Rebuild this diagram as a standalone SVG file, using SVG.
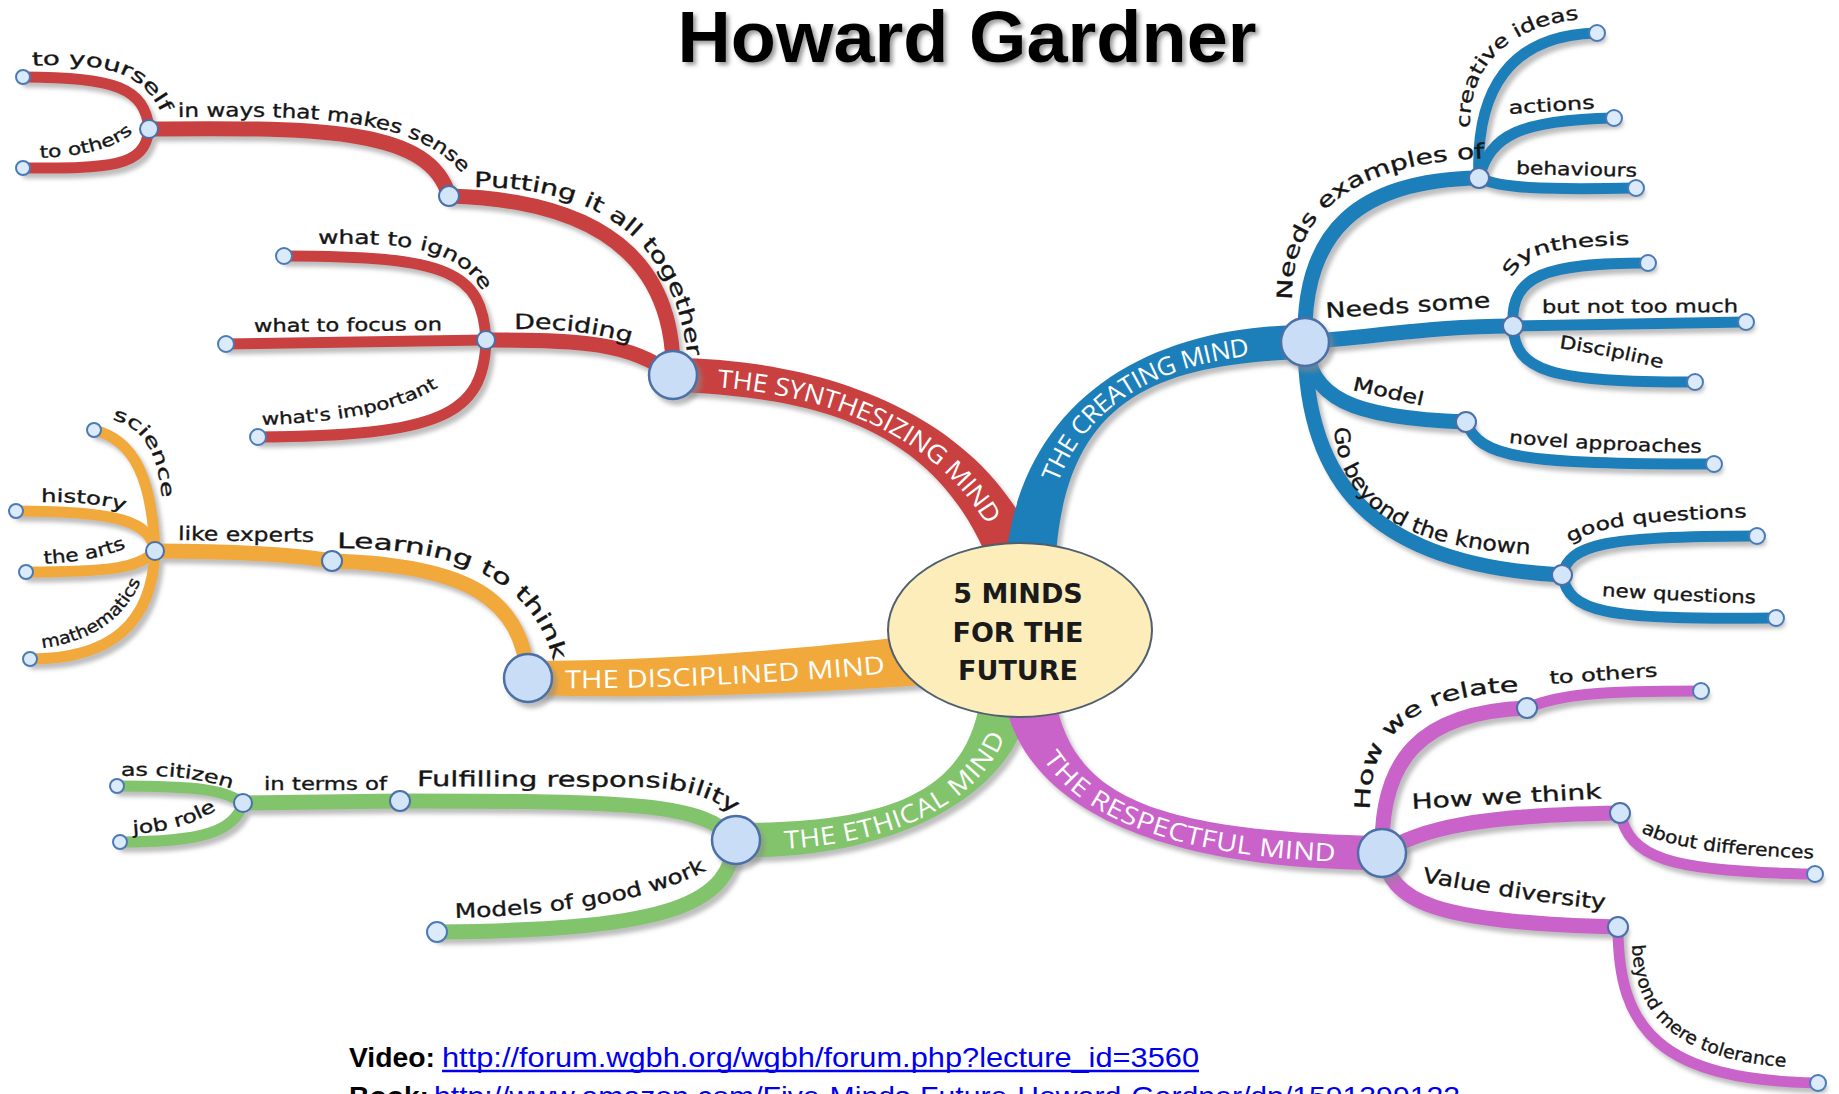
<svg xmlns="http://www.w3.org/2000/svg" width="1839" height="1094" viewBox="0 0 1839 1094">
<style>
.b{fill:none;stroke-linecap:round}
.r{stroke:#C9413F}.u{stroke:#1C7FBA}.o{stroke:#F2A93B}.g{stroke:#82C46C}.m{stroke:#C964C9}
.fr{fill:#C9413F}.fu{fill:#1C7FBA}.fo{fill:#F2A93B}.fg{fill:#82C46C}.fm{fill:#C964C9}
.w2{stroke-width:15}.w3{stroke-width:11}
.mn{fill:#C9DEF6;stroke:#4B6FA8;stroke-width:2.5}
.nd{fill:#D2E5F9;stroke:#4B6FA8;stroke-width:2}
.lf{fill:#DCEBFB;stroke:#4B7AB8;stroke-width:2}
.lb{font-family:"DejaVu Sans",Verdana,sans-serif;fill:#151515;stroke:#151515;stroke-width:0.35}
.s1{font-size:21px}.s2{font-size:18px}.s3{font-size:17px}.s4{font-size:19px}.s5{font-size:20px}
.mt{font-family:"Open Sans","DejaVu Sans",sans-serif;font-size:25px;fill:#fff;dominant-baseline:central}
.ct{font-family:"DejaVu Sans",Verdana,sans-serif;font-weight:bold;font-size:27px;fill:#1a1a1a;text-anchor:middle}
.ft{font-family:"Liberation Sans",Arial,sans-serif;font-size:28px}
</style>
<defs>
<filter id="sh" filterUnits="userSpaceOnUse" x="0" y="0" width="1839" height="1094">
<feDropShadow dx="4" dy="5" stdDeviation="2" flood-color="#888" flood-opacity="0.55"/>
</filter>
<filter id="tsh" filterUnits="userSpaceOnUse" x="600" y="0" width="700" height="100">
<feDropShadow dx="3" dy="3" stdDeviation="2" flood-color="#555" flood-opacity="0.6"/>
</filter>
<path id="t-synth" d="M 673 375 C 820 378, 960 420, 1015 560"/>
<path id="t-creating" d="M 1030 570 C 1040 400, 1150 345, 1305 342"/>
<path id="t-disc" d="M 528 678 C 650 680, 800 672, 920 660"/>
<path id="t-ethical" d="M 736 840 C 880 842, 990 800, 1005 700"/>
<path id="t-resp" d="M 1030 700 C 1050 800, 1150 850, 1382 853"/>
<path id="p1" d="M 474 187 C 600 187, 690 240, 690 400"/>
<path id="p2" d="M 178 117 C 320 115, 430 118, 470 185 L 485 215"/>
<path id="p3" d="M 32 66 C 100 62, 140 70, 160 110"/>
<path id="p4" d="M 40 158 C 80 156, 120 150, 140 125"/>
<path id="p5" d="M 514 329 C 560 328, 600 332, 645 348"/>
<path id="p6" d="M 318 244 C 420 242, 465 250, 490 305"/>
<path id="p7" d="M 254 332 L 470 330"/>
<path id="p8" d="M 262 425 C 340 422, 410 412, 455 375"/>
<path id="p9" d="M 1292 300 C 1290 210, 1360 160, 1495 158 L 1530 158"/>
<path id="p10" d="M 1470 128 C 1468 65, 1510 20, 1600 18 L 1640 18"/>
<path id="p11" d="M 1509 114 L 1620 107"/>
<path id="p12" d="M 1516 174 L 1650 177"/>
<path id="p13" d="M 1326 318 L 1510 306"/>
<path id="p14" d="M 1512 278 C 1525 250, 1560 246, 1660 244"/>
<path id="p15" d="M 1542 313 L 1760 312"/>
<path id="p16" d="M 1559 348 C 1600 354, 1640 362, 1690 376"/>
<path id="p17" d="M 1352 390 L 1450 412"/>
<path id="p18" d="M 1509 443 C 1560 448, 1640 452, 1720 453"/>
<path id="p19" d="M 1334 428 C 1340 505, 1400 550, 1545 555 L 1580 555"/>
<path id="p20" d="M 1570 543 C 1600 525, 1650 520, 1760 517"/>
<path id="p21" d="M 1602 596 C 1650 599, 1700 602, 1775 604"/>
<path id="p22" d="M 337 548 C 440 548, 530 570, 553 660 L 560 700"/>
<path id="p23" d="M 178 540 L 320 542"/>
<path id="p24" d="M 112 420 C 140 425, 160 450, 163 510"/>
<path id="p25" d="M 41 502 C 80 502, 110 504, 130 514"/>
<path id="p26" d="M 44 564 C 75 562, 105 558, 130 546"/>
<path id="p27" d="M 42 648 C 90 642, 125 620, 142 578"/>
<path id="p28" d="M 417 786 L 640 787 C 690 788, 725 800, 750 830"/>
<path id="p29" d="M 264 790 L 395 790"/>
<path id="p30" d="M 121 776 C 160 775, 200 776, 240 792"/>
<path id="p31" d="M 133 834 C 165 832, 195 825, 222 806"/>
<path id="p32" d="M 455 918 C 560 915, 660 900, 715 865"/>
<path id="p33" d="M 1370 810 C 1368 740, 1410 695, 1515 692 L 1550 692"/>
<path id="p34" d="M 1550 684 L 1665 676"/>
<path id="p35" d="M 1412 809 L 1610 798"/>
<path id="p36" d="M 1641 832 C 1670 848, 1720 855, 1825 859"/>
<path id="p37" d="M 1422 882 C 1480 892, 1550 905, 1615 910"/>
<path id="p38" d="M 1632 945 C 1635 1020, 1680 1062, 1800 1068 L 1840 1068"/>
</defs>
<rect width="1839" height="1094" fill="#fff"/>

<g id="title"><text x="967" y="62" text-anchor="middle" font-family="Liberation Sans, Arial, sans-serif" font-weight="bold" font-size="72" textLength="579" lengthAdjust="spacingAndGlyphs" fill="#000" filter="url(#tsh)">Howard Gardner</text></g>

<g id="connectors" filter="url(#sh)">
<path class="fr" d="M 673.3 358 C 820.4 359, 981.4 411.6, 1038.3 550.9 L 991.7 569.2 C 938.6 428.4, 819.6 397, 672.7 392 Z"/>
<path class="b r w2" d="M 673 375 C 675 260, 600 200, 449 196"/>
<path class="b r w2" d="M 149 129 C 330 127, 430 130, 449 196"/>
<path class="b r w3" d="M 149 129 C 145 88, 115 77, 23 77"/>
<path class="b r w3" d="M 149 129 C 145 168, 110 168, 23 168"/>
<path class="b r w2" d="M 673 375 C 630 342, 580 340, 486 340"/>
<path class="b r w3" d="M 486 340 C 482 272, 450 256, 284 256"/>
<path class="b r w3" d="M 486 340 L 226 344"/>
<path class="b r w3" d="M 486 340 C 484 415, 440 436, 258 437"/>

<path class="fu" d="M 1005 568.5 C 1018 398.7, 1149.6 326, 1304.7 325 L 1305.3 359 C 1150.4 364, 1062 401.3, 1055 571.5 Z"/>
<path class="b u w2" d="M 1305 342 C 1302 230, 1360 180, 1479 178"/>
<path class="b u w3" d="M 1479 178 C 1475 90, 1510 35, 1597 33"/>
<path class="b u w3" d="M 1479 178 C 1490 135, 1520 120, 1614 118"/>
<path class="b u w3" d="M 1479 178 C 1500 188, 1540 190, 1636 188"/>
<path class="b u w2" d="M 1305 342 C 1380 336, 1440 326, 1513 326"/>
<path class="b u w3" d="M 1513 326 C 1510 275, 1545 263, 1648 263"/>
<path class="b u w3" d="M 1513 326 L 1746 322"/>
<path class="b u w3" d="M 1513 326 C 1515 372, 1550 382, 1695 382"/>
<path class="b u w2" d="M 1305 342 C 1310 398, 1350 418, 1466 422"/>
<path class="b u w3" d="M 1466 422 C 1480 458, 1520 464, 1714 464"/>
<path class="b u w2" d="M 1305 342 C 1305 480, 1370 565, 1562 575"/>
<path class="b u w3" d="M 1562 575 C 1570 545, 1600 536, 1757 536"/>
<path class="b u w3" d="M 1562 575 C 1570 612, 1600 620, 1776 618"/>

<path class="fo" d="M 528.3 661 C 650.3 661, 797.8 650.1, 917.5 635.1 L 922.5 684.9 C 802.2 693.9, 649.7 699, 527.7 695 Z"/>
<path class="b o w2" d="M 528 678 C 522 600, 470 565, 332 561"/>
<path class="b o w2" d="M 332 561 C 280 553, 220 551, 155 551"/>
<path class="b o w3" d="M 155 551 C 152 480, 135 440, 94 430"/>
<path class="b o w3" d="M 155 551 C 150 522, 120 511, 16 511"/>
<path class="b o w3" d="M 155 551 C 140 568, 110 572, 26 572"/>
<path class="b o w3" d="M 155 551 C 152 625, 110 659, 30 659"/>

<path class="fg" d="M 736.2 823 C 880.3 823, 968.2 796.7, 980.3 696.3 L 1029.7 703.7 C 1011.8 803.3, 879.7 861, 735.8 857 Z"/>
<path class="b g w2" d="M 736 840 C 700 803, 640 801, 400 801"/>
<path class="b g w2" d="M 400 801 L 243 803"/>
<path class="b g w3" d="M 243 803 C 225 790, 200 786, 117 786"/>
<path class="b g w3" d="M 243 803 C 235 832, 200 842, 120 842"/>
<path class="b g w2" d="M 736 840 C 728 902, 680 930, 437 932"/>

<path class="fm" d="M 1054.5 695.1 C 1071.6 795.7, 1150.2 831, 1382.2 836 L 1381.8 870 C 1149.8 869, 1028.4 804.3, 1005.5 704.9 Z"/>
<path class="b m w2" d="M 1382 853 C 1380 760, 1420 712, 1527 708"/>
<path class="b m w3" d="M 1527 708 C 1560 694, 1600 691, 1701 691"/>
<path class="b m w2" d="M 1382 853 C 1420 828, 1480 815, 1620 813"/>
<path class="b m w3" d="M 1620 813 C 1630 857, 1665 872, 1815 874"/>
<path class="b m w2" d="M 1382 853 C 1392 902, 1430 922, 1618 927"/>
<path class="b m w3" d="M 1618 927 C 1618 1030, 1660 1080, 1818 1083"/>
</g>

<g id="center">
<ellipse cx="1020" cy="630" rx="132" ry="87" fill="#FCEDBB" stroke="#4E5F70" stroke-width="2"/>
<text class="ct" x="1018" y="603">5 MINDS</text>
<text class="ct" x="1018" y="642">FOR THE</text>
<text class="ct" x="1018" y="680">FUTURE</text>
</g>

<g id="synthesizing"><circle class="mn" cx="673" cy="375" r="24" filter="url(#sh)"/><text class="mt"><textPath href="#t-synth" startOffset="45" textLength="325" lengthAdjust="spacingAndGlyphs">THE SYNTHESIZING MIND</textPath></text></g>
<g id="creating"><circle class="mn" cx="1305" cy="342" r="24" filter="url(#sh)"/><text class="mt"><textPath href="#t-creating" startOffset="93" textLength="254" lengthAdjust="spacingAndGlyphs">THE CREATING MIND</textPath></text></g>
<g id="disciplined"><circle class="mn" cx="528" cy="678" r="24" filter="url(#sh)"/><text class="mt"><textPath href="#t-disc" startOffset="37" textLength="320" lengthAdjust="spacingAndGlyphs">THE DISCIPLINED MIND</textPath></text></g>
<g id="ethical"><circle class="mn" cx="736" cy="840" r="24" filter="url(#sh)"/><text class="mt"><textPath href="#t-ethical" startOffset="48" textLength="250" lengthAdjust="spacingAndGlyphs">THE ETHICAL MIND</textPath></text></g>
<g id="respectful"><circle class="mn" cx="1382" cy="853" r="24" filter="url(#sh)"/><text class="mt"><textPath href="#t-resp" startOffset="57" textLength="312" lengthAdjust="spacingAndGlyphs">THE RESPECTFUL MIND</textPath></text></g>

<g id="n-putting"><circle class="nd" cx="449" cy="196" r="10"/><text class="lb s1"><textPath href="#p1" textLength="305" lengthAdjust="spacingAndGlyphs">Putting it all together</textPath></text></g>
<g id="n-ways"><circle class="nd" cx="149" cy="129" r="9"/><text class="lb s4"><textPath href="#p2" textLength="298" lengthAdjust="spacingAndGlyphs">in ways that makes sense</textPath></text></g>
<g id="n-yourself"><circle class="lf" cx="23" cy="77" r="7"/><text class="lb s4"><textPath href="#p3" textLength="148" lengthAdjust="spacingAndGlyphs">to yourself</textPath></text></g>
<g id="n-others1"><circle class="lf" cx="23" cy="168" r="7"/><text class="lb s3"><textPath href="#p4" textLength="98" lengthAdjust="spacingAndGlyphs">to others</textPath></text></g>
<g id="n-deciding"><circle class="nd" cx="486" cy="340" r="9"/><text class="lb s1"><textPath href="#p5" textLength="118" lengthAdjust="spacingAndGlyphs">Deciding</textPath></text></g>
<g id="n-ignore"><circle class="lf" cx="284" cy="256" r="8"/><text class="lb s4"><textPath href="#p6" textLength="180" lengthAdjust="spacingAndGlyphs">what to ignore</textPath></text></g>
<g id="n-focus"><circle class="lf" cx="226" cy="344" r="8"/><text class="lb s2"><textPath href="#p7" textLength="188" lengthAdjust="spacingAndGlyphs">what to focus on</textPath></text></g>
<g id="n-important"><circle class="lf" cx="258" cy="437" r="8"/><text class="lb s3"><textPath href="#p8" textLength="182" lengthAdjust="spacingAndGlyphs">what's important</textPath></text></g>

<g id="n-examples"><circle class="nd" cx="1479" cy="178" r="10"/><text class="lb s1"><textPath href="#p9" textLength="270" lengthAdjust="spacingAndGlyphs">Needs examples of</textPath></text></g>
<g id="n-ideas"><circle class="lf" cx="1597" cy="33" r="8"/><text class="lb s4"><textPath href="#p10" textLength="172" lengthAdjust="spacingAndGlyphs">creative ideas</textPath></text></g>
<g id="n-actions"><circle class="lf" cx="1614" cy="118" r="8"/><text class="lb s2"><textPath href="#p11" textLength="86" lengthAdjust="spacingAndGlyphs">actions</textPath></text></g>
<g id="n-behaviours"><circle class="lf" cx="1636" cy="188" r="8"/><text class="lb s2"><textPath href="#p12" textLength="121" lengthAdjust="spacingAndGlyphs">behaviours</textPath></text></g>
<g id="n-some"><circle class="nd" cx="1513" cy="326" r="10"/><text class="lb s1"><textPath href="#p13" textLength="165" lengthAdjust="spacingAndGlyphs">Needs some</textPath></text></g>
<g id="n-synthesis"><circle class="lf" cx="1648" cy="263" r="8"/><text class="lb s2"><textPath href="#p14" textLength="128" lengthAdjust="spacingAndGlyphs">Synthesis</textPath></text></g>
<g id="n-much"><circle class="lf" cx="1746" cy="322" r="8"/><text class="lb s2"><textPath href="#p15" textLength="196" lengthAdjust="spacingAndGlyphs">but not too much</textPath></text></g>
<g id="n-discipline"><circle class="lf" cx="1695" cy="382" r="8"/><text class="lb s2"><textPath href="#p16" textLength="105" lengthAdjust="spacingAndGlyphs">Discipline</textPath></text></g>
<g id="n-model"><circle class="nd" cx="1466" cy="422" r="10"/><text class="lb s4"><textPath href="#p17" textLength="72" lengthAdjust="spacingAndGlyphs">Model</textPath></text></g>
<g id="n-novel"><circle class="lf" cx="1714" cy="464" r="8"/><text class="lb s2"><textPath href="#p18" textLength="193" lengthAdjust="spacingAndGlyphs">novel approaches</textPath></text></g>
<g id="n-beyond"><circle class="nd" cx="1562" cy="575" r="10"/><text class="lb s1"><textPath href="#p19" textLength="258" lengthAdjust="spacingAndGlyphs">Go beyond the known</textPath></text></g>
<g id="n-good"><circle class="lf" cx="1757" cy="536" r="8"/><text class="lb s2"><textPath href="#p20" textLength="180" lengthAdjust="spacingAndGlyphs">good questions</textPath></text></g>
<g id="n-new"><circle class="lf" cx="1776" cy="618" r="8"/><text class="lb s2"><textPath href="#p21" textLength="154" lengthAdjust="spacingAndGlyphs">new questions</textPath></text></g>

<g id="n-learning"><circle class="nd" cx="332" cy="561" r="10"/><text class="lb s1"><textPath href="#p22" textLength="265" lengthAdjust="spacingAndGlyphs">Learning to think</textPath></text></g>
<g id="n-experts"><circle class="nd" cx="155" cy="551" r="9"/><text class="lb s4"><textPath href="#p23" textLength="136" lengthAdjust="spacingAndGlyphs">like experts</textPath></text></g>
<g id="n-science"><circle class="lf" cx="94" cy="430" r="7"/><text class="lb s2"><textPath href="#p24" textLength="100" lengthAdjust="spacingAndGlyphs">science</textPath></text></g>
<g id="n-history"><circle class="lf" cx="16" cy="511" r="7"/><text class="lb s2"><textPath href="#p25" textLength="84" lengthAdjust="spacingAndGlyphs">history</textPath></text></g>
<g id="n-arts"><circle class="lf" cx="26" cy="572" r="7"/><text class="lb s2"><textPath href="#p26" textLength="84" lengthAdjust="spacingAndGlyphs">the arts</textPath></text></g>
<g id="n-math"><circle class="lf" cx="30" cy="659" r="7"/><text class="lb s3"><textPath href="#p27" textLength="125" lengthAdjust="spacingAndGlyphs">mathematics</textPath></text></g>

<g id="n-fulfil"><circle class="nd" cx="400" cy="801" r="10"/><text class="lb s1"><textPath href="#p28" textLength="322" lengthAdjust="spacingAndGlyphs">Fulfilling responsibility</textPath></text></g>
<g id="n-terms"><circle class="nd" cx="243" cy="803" r="9"/><text class="lb s2"><textPath href="#p29" textLength="123" lengthAdjust="spacingAndGlyphs">in terms of</textPath></text></g>
<g id="n-citizen"><circle class="lf" cx="117" cy="786" r="7"/><text class="lb s2"><textPath href="#p30" textLength="112" lengthAdjust="spacingAndGlyphs">as citizen</textPath></text></g>
<g id="n-job"><circle class="lf" cx="120" cy="842" r="7"/><text class="lb s2"><textPath href="#p31" textLength="88" lengthAdjust="spacingAndGlyphs">job role</textPath></text></g>
<g id="n-models"><circle class="lf" cx="437" cy="932" r="10"/><text class="lb s5"><textPath href="#p32" textLength="258" lengthAdjust="spacingAndGlyphs">Models of good work</textPath></text></g>

<g id="n-relate"><circle class="nd" cx="1527" cy="708" r="10"/><text class="lb s1"><textPath href="#p33" textLength="217" lengthAdjust="spacingAndGlyphs">How we relate</textPath></text></g>
<g id="n-others2"><circle class="lf" cx="1701" cy="691" r="8"/><text class="lb s2"><textPath href="#p34" textLength="108" lengthAdjust="spacingAndGlyphs">to others</textPath></text></g>
<g id="n-think"><circle class="nd" cx="1620" cy="813" r="10"/><text class="lb s1"><textPath href="#p35" textLength="190" lengthAdjust="spacingAndGlyphs">How we think</textPath></text></g>
<g id="n-differences"><circle class="lf" cx="1815" cy="874" r="8"/><text class="lb s2"><textPath href="#p36" textLength="176" lengthAdjust="spacingAndGlyphs">about differences</textPath></text></g>
<g id="n-value"><circle class="nd" cx="1618" cy="927" r="10"/><text class="lb s1"><textPath href="#p37" textLength="185" lengthAdjust="spacingAndGlyphs">Value diversity</textPath></text></g>
<g id="n-tolerance"><circle class="lf" cx="1818" cy="1083" r="8"/><text class="lb s2"><textPath href="#p38" textLength="220" lengthAdjust="spacingAndGlyphs">beyond mere tolerance</textPath></text></g>

<g id="footer">
<text class="ft" x="349" y="1067" font-weight="bold" fill="#000" textLength="86" lengthAdjust="spacingAndGlyphs">Video:</text>
<text class="ft" x="442" y="1067" fill="#0000EE" textLength="757" lengthAdjust="spacingAndGlyphs">http://forum.wgbh.org/wgbh/forum.php?lecture_id=3560</text>
<line x1="442" y1="1071" x2="1199" y2="1071" stroke="#0000EE" stroke-width="2.5"/>
<text class="ft" x="349" y="1106" font-weight="bold" fill="#000" textLength="80" lengthAdjust="spacingAndGlyphs">Book:</text>
<text class="ft" x="434" y="1106" fill="#0000EE" textLength="1026" lengthAdjust="spacingAndGlyphs">http://www.amazon.com/Five-Minds-Future-Howard-Gardner/dp/1591399122</text>
</g>
</svg>
